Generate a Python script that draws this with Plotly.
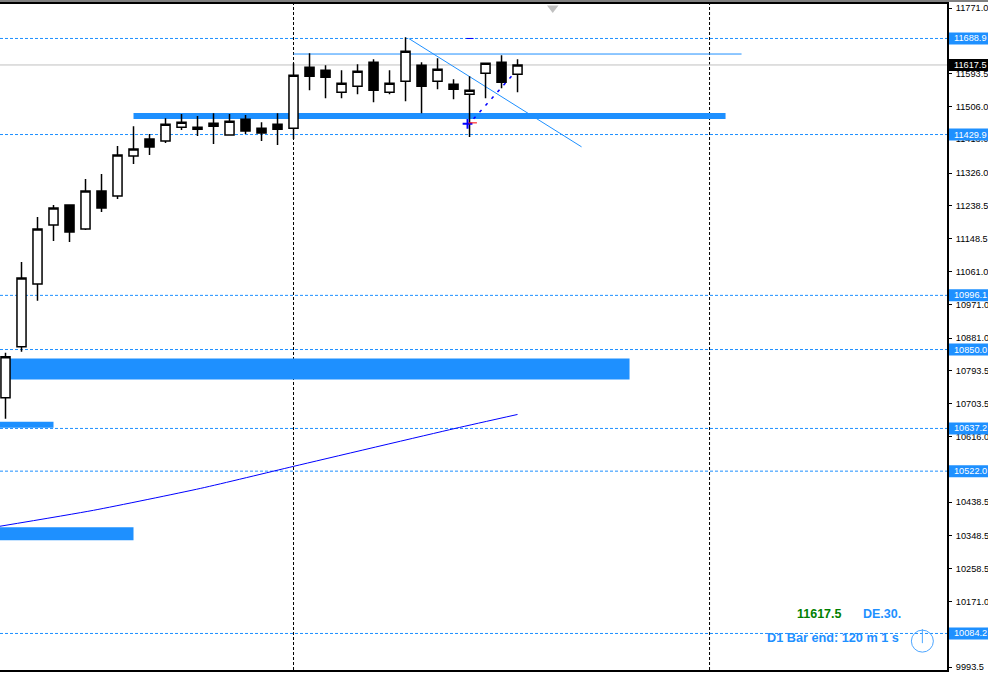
import plotly.graph_objects as go

# Daily candles
opens = [10720,10857.4,11027,11185.9,11239.8,11175.1,11277.5,11264,11371.7,11417.5,11412.1,11449.8,11444.4,11460.6,11428.3,11471.4,11447.1,11457.9,11447.1,11611.4,11603.3,11544.1,11560.3,11624.9,11544.1,11573.7,11616.8,11573.7,11565.6,11538.7,11595.3,11624.9,11592.6]
highs = [10841.2,11086.3,11207.4,11239.8,11239.8,11309.8,11323.3,11398.7,11452.5,11431,11474.1,11484.9,11479.5,11487.5,11484.9,11482.2,11463.3,11487.5,11622.2,11649.1,11616.8,11603.3,11619.5,11633,11603.3,11692.2,11624.9,11635.6,11579.1,11587.2,11622.2,11643.7,11633]
lows = [10663.5,10843.9,10981.3,11142.8,11140.1,11172.4,11220.9,11255.9,11350.2,11374.4,11406.8,11441.8,11425.6,11404.1,11428.3,11431,11412.1,11401.4,11417.5,11549.5,11528,11528,11538.7,11517.2,11538.7,11519.9,11487.5,11552.2,11525.3,11422.9,11528,11554.9,11544.1]
closes = [10830.4,11043.2,11175.1,11231.7,11167,11277.5,11231.7,11374.4,11390.6,11396,11457.9,11463.3,11449.8,11452.5,11466,11439.1,11433.7,11444.4,11589.9,11587.2,11584.5,11568.3,11600.6,11549.5,11568.3,11654.5,11560.3,11606,11552.2,11549.5,11622.2,11571,11617.5]
bars = list(range(len(opens)))

# Horizontal price levels
level_prices = [11688.9, 11429.9, 10996.1, 10850.0, 10637.2, 10522.0, 10084.2]
last_price = 11617.5

# Zones: bar start, bar end, price top, price bottom
zone_start = [8, 0, -0.35, -0.35]
zone_end = [45, 39, 3, 8]
zone_top = [11488, 10825.5, 10655.5, 10370.6]
zone_bottom = [11472, 10769, 10639.2, 10335.6]

# Vertical separators
sep_bars = [18, 44]

# Trend objects
ma_x = [-0.35, 5.5, 12.2, 18, 28.1, 32]
ma_y = [10373.4, 10416.4, 10475.6, 10534.9, 10637.2, 10674.9]
diag_x = [25.2, 36]
diag_y = [11688.9, 11396.7]
flat_x = [18, 46]
flat_y = [11647, 11647]
dash_x = [29.25, 31.7]
dash_y = [11472.1, 11590.6]
short_x = [28.8, 29.25]
short_y = [11688.9, 11688.9]

tick_vals = [11771.0,11683.5,11593.5,11506.0,11418.0,11326.0,11238.5,11148.5,11061.0,10971.0,10881.0,10793.5,10703.5,10616.0,10526.0,10438.5,10348.5,10258.5,10171.0,10084.0,9993.5]
tick_text = [f"{v:.1f}" for v in tick_vals]

BLUE = "#1E90FF"
shapes = []
for xb in sep_bars:
    shapes.append(dict(type="line", xref="x", yref="paper", x0=xb, x1=xb, y0=0, y1=1, layer="below",
                       line=dict(color="black", width=1, dash="3px,2px")))
for lv in level_prices:
    shapes.append(dict(type="line", xref="paper", yref="y", x0=0, x1=1, y0=lv, y1=lv, layer="below",
                       line=dict(color=BLUE, width=1, dash="3px,2px")))
shapes.append(dict(type="line", xref="paper", yref="y", x0=0, x1=1, y0=last_price, y1=last_price, layer="below",
                   line=dict(color="#C0C0C0", width=1)))
shapes.append(dict(type="line", xref="x", yref="y", x0=flat_x[0], x1=flat_x[1], y0=flat_y[0], y1=flat_y[1], layer="below",
                   line=dict(color=BLUE, width=1)))
shapes.append(dict(type="line", xref="x", yref="y", x0=diag_x[0], x1=diag_x[1], y0=diag_y[0], y1=diag_y[1], layer="below",
                   line=dict(color=BLUE, width=1)))
for a, b, t, bt in zip(zone_start, zone_end, zone_top, zone_bottom):
    shapes.append(dict(type="rect", xref="x", yref="y", x0=a, x1=b, y0=bt, y1=t, layer="below",
                       fillcolor=BLUE, line=dict(width=0)))
# top window strip
shapes.append(dict(type="rect", xref="paper", yref="paper", xsizemode="scaled", ysizemode="pixel", yanchor=1,
                   x0=0, x1=1.05, y0=2, y1=4, fillcolor="#808080", line=dict(width=0)))

annotations = []
for lv, col in [(v, BLUE) for v in level_prices] + [(last_price, "black")]:
    shapes.append(dict(type="rect", xref="paper", yref="y", xsizemode="pixel", ysizemode="pixel",
                       xanchor=1, yanchor=lv, x0=2, x1=41, y0=-6, y1=6, fillcolor=col,
                       line=dict(width=0), layer="above"))
    annotations.append(dict(xref="paper", yref="y", x=1, xanchor="left", xshift=5, y=lv, yanchor="middle",
                            text=f"{lv:.1f}", showarrow=False,
                            font=dict(family="Liberation Sans", size=9.2, color="white")))

LBL = "Liberation Sans"
annotations += [
    dict(xref="x", yref="y", x=50.9, y=10136, text="<b>11617.5</b>", showarrow=False, xanchor="center",
         font=dict(family=LBL, size=12.5, color="#008000")),
    dict(xref="x", yref="y", x=54.8, y=10136, text="<b>DE.30.</b>", showarrow=False, xanchor="center",
         font=dict(family=LBL, size=12.5, color=BLUE)),
    dict(xref="x", yref="y", x=51.7, y=10071.7, text="<b>D1 Bar end: 120 m 1 s</b>", showarrow=False, xanchor="center",
         font=dict(family=LBL, size=12.7, color=BLUE)),
]

fig = go.Figure()
fig.add_trace(go.Scatter(x=ma_x, y=ma_y, mode="lines", line=dict(color="#0000FF", width=1, shape="spline", smoothing=0.6), hoverinfo="skip"))
fig.add_trace(go.Scatter(x=short_x, y=short_y, mode="lines", line=dict(color="#0000FF", width=1), hoverinfo="skip"))
fig.add_trace(go.Scatter(x=dash_x, y=dash_y, mode="lines", line=dict(color="#0000FF", width=1.5, dash="3px,6px"), hoverinfo="skip"))
fig.add_trace(go.Candlestick(
    x=bars, open=opens, high=highs, low=lows, close=closes,
    increasing=dict(fillcolor="white", line=dict(color="black", width=1.5)),
    decreasing=dict(fillcolor="black", line=dict(color="black", width=1.5)),
    whiskerwidth=0, hoverinfo="skip"))
# entry arrow
fig.add_trace(go.Scatter(x=[28.875], y=[11458.6], mode="markers", hoverinfo="skip",
                         marker=dict(symbol="cross-thin", size=7, color="#0000FF", line=dict(color="#0000FF", width=2))))
fig.add_trace(go.Scatter(x=[29.2], y=[11461.3], mode="markers", hoverinfo="skip",
                         marker=dict(symbol="line-ew", size=6, line=dict(color="red", width=1))))
# scroll marker
fig.add_trace(go.Scatter(x=[34.2], y=[11771], mode="markers", hoverinfo="skip", cliponaxis=False,
                         marker=dict(symbol="triangle-down", size=10, color="#C0C0C0")))
# clock
fig.add_trace(go.Scatter(x=[57.3], y=[10063.6], mode="markers", hoverinfo="skip",
                         marker=dict(symbol="circle-open", size=22, color="#4DA6FF", line=dict(color="#4DA6FF", width=1))))
fig.add_trace(go.Scatter(x=[57.3], y=[10077], mode="markers", hoverinfo="skip",
                         marker=dict(symbol="line-ns", size=10, line=dict(color="#4DA6FF", width=1))))

fig.update_layout(
    width=988, height=674, showlegend=False,
    margin=dict(l=0, r=41, t=4, b=4),
    paper_bgcolor="white", plot_bgcolor="white",
    boxgap=0.19, shapes=shapes, annotations=annotations,
    xaxis=dict(range=[-0.34375, 58.84], showgrid=False, zeroline=False, showticklabels=False, ticks="",
               rangeslider=dict(visible=False), showline=True, mirror=True, linecolor="black", linewidth=1.5),
    yaxis=dict(range=[9985.7, 11781.9], side="right", showgrid=False, zeroline=False,
               tickmode="array", tickvals=tick_vals, ticktext=tick_text, ticks="outside", ticklen=3,
               tickcolor="black", tickwidth=1, showline=True, linecolor="black", linewidth=2,
               tickfont=dict(family="Liberation Sans", size=9.2, color="black"), ticklabelstandoff=2),
)
fig.write_html("out.html", config={"displayModeBar": False},
               post_script="document.body.style.margin='0';document.body.style.overflow='hidden';")
